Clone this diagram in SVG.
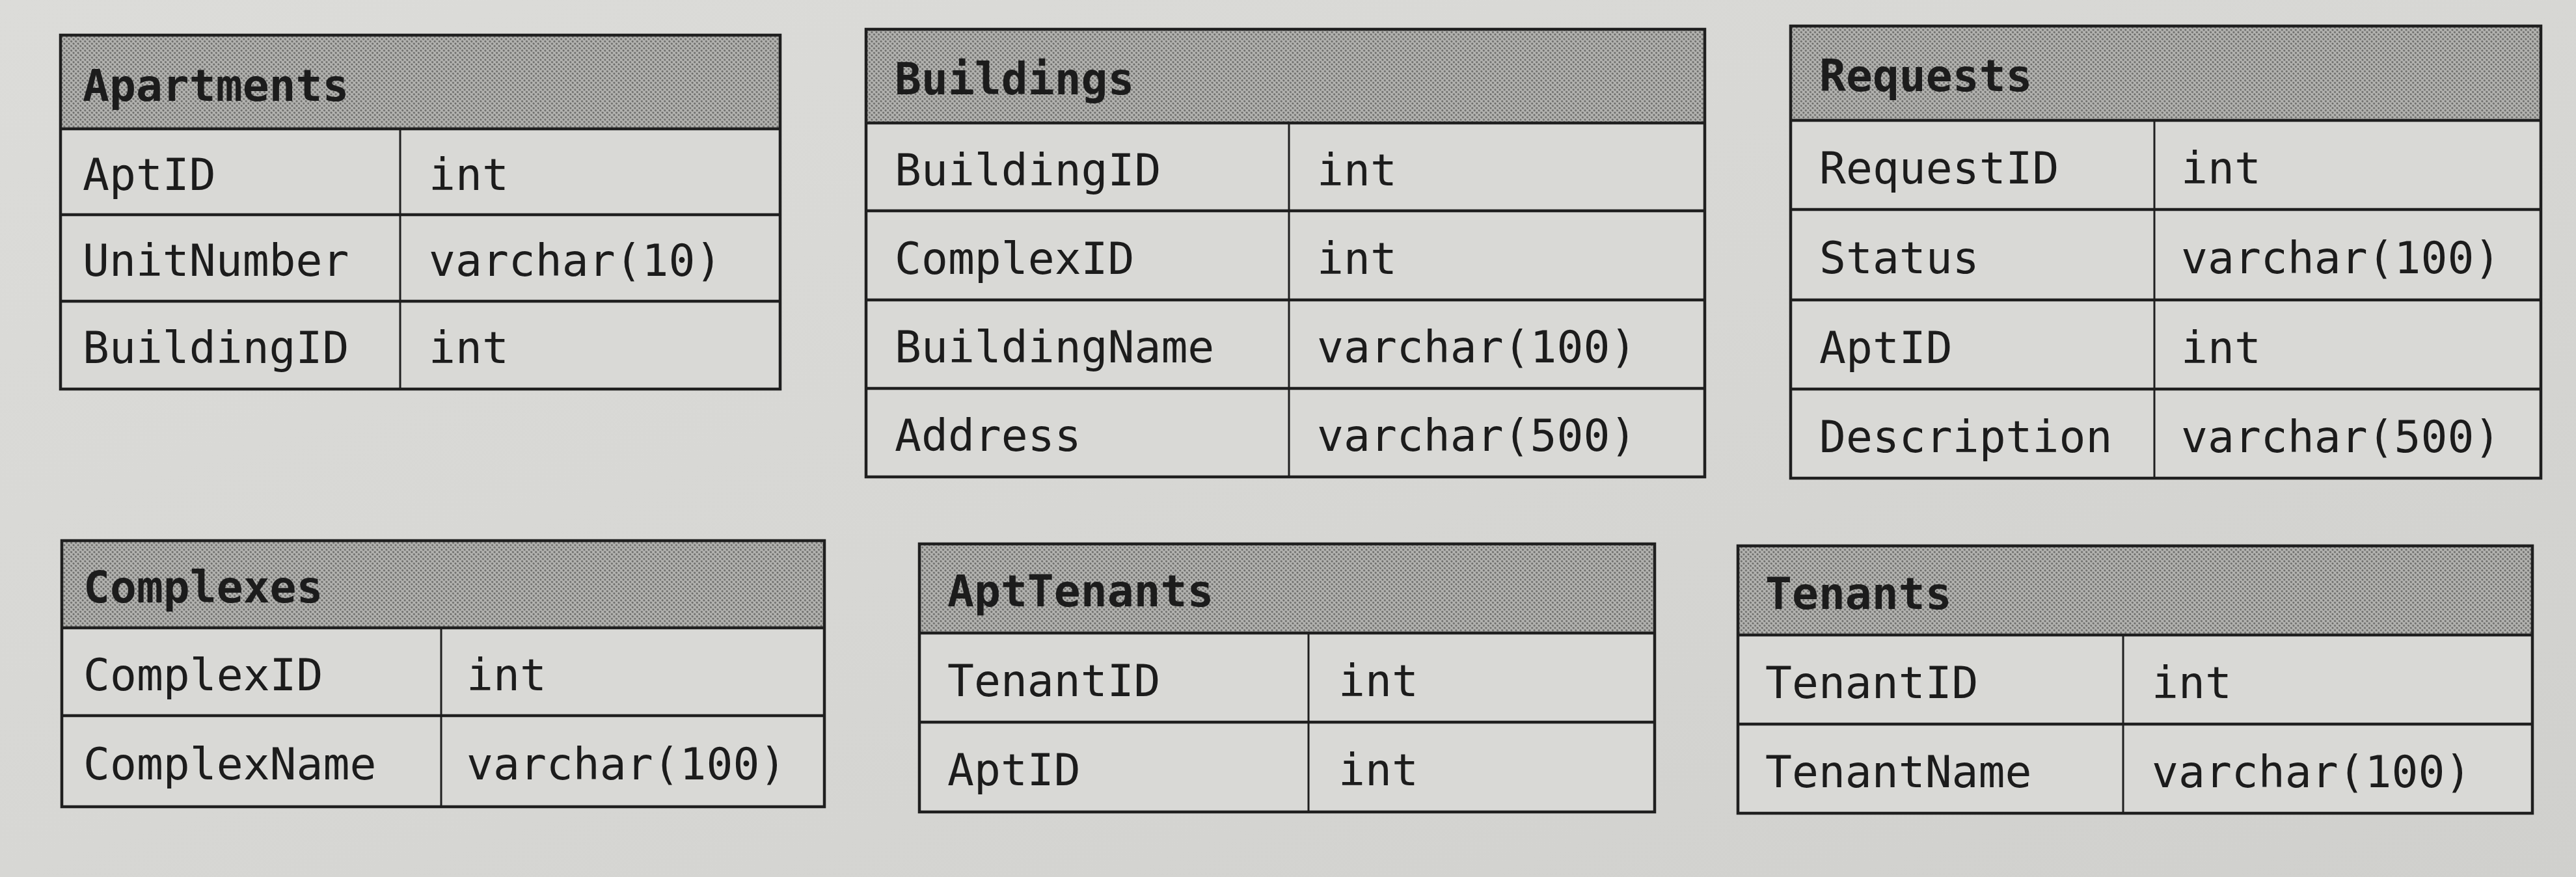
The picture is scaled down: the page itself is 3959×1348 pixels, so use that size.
<svg xmlns="http://www.w3.org/2000/svg" width="3959" height="1348" viewBox="0 0 3959 1348">
  <defs>
    <linearGradient id="paper" x1="0" y1="0" x2="1" y2="1">
      <stop offset="0" stop-color="#dcdcd9"/>
      <stop offset="0.5" stop-color="#d7d7d4"/>
      <stop offset="1" stop-color="#d0d0cd"/>
    </linearGradient>
    <!-- halftone screen used for the table title bars -->
    <pattern id="halftone" width="5" height="5" patternUnits="userSpaceOnUse" patternTransform="rotate(45)">
      <rect width="5" height="5" fill="#b3b3b0"/>
      <circle cx="2.5" cy="2.5" r="1.6" fill="#6a6a68"/>
    </pattern>
  </defs>
  <style>
    .cell { fill: #d9d9d6; }
    .head { fill: url(#halftone); }
    .frame { fill: none; stroke: #1f1f1f; stroke-width: 4.5; }
    .rule { stroke: #1f1f1f; stroke-width: 4.5; }
    .div { stroke: #1f1f1f; stroke-width: 3; }
    text { font-family: "DejaVu Sans Mono", "Liberation Mono", monospace; font-size: 68px; fill: #1c1c1c; }
    .title { font-weight: bold; }
  </style>

  <rect width="3959" height="1348" fill="url(#paper)"/>

  <!-- Apartments -->
  <g id="apartments">
    <rect class="cell" x="93" y="54" width="1106" height="544"/>
    <rect class="head" x="93" y="54" width="1106" height="144"/>
    <line class="rule" x1="93" y1="198" x2="1199" y2="198"/>
    <line class="rule" x1="93" y1="330" x2="1199" y2="330"/>
    <line class="rule" x1="93" y1="463" x2="1199" y2="463"/>
    <line class="div" x1="615" y1="198" x2="615" y2="598"/>
    <rect class="frame" x="93" y="54" width="1106" height="544"/>
    <text class="title" x="127" y="155">Apartments</text>
    <text x="127" y="292">AptID</text>
    <text x="659" y="292">int</text>
    <text x="127" y="424">UnitNumber</text>
    <text x="659" y="424">varchar(10)</text>
    <text x="127" y="558">BuildingID</text>
    <text x="659" y="558">int</text>
  </g>

  <!-- Buildings -->
  <g id="buildings">
    <rect class="cell" x="1331" y="45" width="1289" height="688"/>
    <rect class="head" x="1331" y="45" width="1289" height="144"/>
    <line class="rule" x1="1331" y1="189" x2="2620" y2="189"/>
    <line class="rule" x1="1331" y1="324" x2="2620" y2="324"/>
    <line class="rule" x1="1331" y1="461" x2="2620" y2="461"/>
    <line class="rule" x1="1331" y1="597" x2="2620" y2="597"/>
    <line class="div" x1="1981" y1="189" x2="1981" y2="733"/>
    <rect class="frame" x="1331" y="45" width="1289" height="688"/>
    <text class="title" x="1375" y="145">Buildings</text>
    <text x="1375" y="285">BuildingID</text>
    <text x="2024" y="285">int</text>
    <text x="1375" y="421">ComplexID</text>
    <text x="2024" y="421">int</text>
    <text x="1375" y="557">BuildingName</text>
    <text x="2024" y="557">varchar(100)</text>
    <text x="1375" y="693">Address</text>
    <text x="2024" y="693">varchar(500)</text>
  </g>

  <!-- Requests -->
  <g id="requests">
    <rect class="cell" x="2752" y="40" width="1153" height="695"/>
    <rect class="head" x="2752" y="40" width="1153" height="145"/>
    <line class="rule" x1="2752" y1="185" x2="3905" y2="185"/>
    <line class="rule" x1="2752" y1="322" x2="3905" y2="322"/>
    <line class="rule" x1="2752" y1="461" x2="3905" y2="461"/>
    <line class="rule" x1="2752" y1="598" x2="3905" y2="598"/>
    <line class="div" x1="3311" y1="185" x2="3311" y2="735"/>
    <rect class="frame" x="2752" y="40" width="1153" height="695"/>
    <text class="title" x="2796" y="140">Requests</text>
    <text x="2796" y="282">RequestID</text>
    <text x="3352" y="282">int</text>
    <text x="2796" y="420">Status</text>
    <text x="3352" y="420">varchar(100)</text>
    <text x="2796" y="558">AptID</text>
    <text x="3352" y="558">int</text>
    <text x="2796" y="695">Description</text>
    <text x="3352" y="695">varchar(500)</text>
  </g>

  <!-- Complexes -->
  <g id="complexes">
    <rect class="cell" x="95" y="831" width="1172" height="409"/>
    <rect class="head" x="95" y="831" width="1172" height="134"/>
    <line class="rule" x1="95" y1="965" x2="1267" y2="965"/>
    <line class="rule" x1="95" y1="1100" x2="1267" y2="1100"/>
    <line class="div" x1="678" y1="965" x2="678" y2="1240"/>
    <rect class="frame" x="95" y="831" width="1172" height="409"/>
    <text class="title" x="128" y="926">Complexes</text>
    <text x="128" y="1061">ComplexID</text>
    <text x="717" y="1061">int</text>
    <text x="128" y="1198">ComplexName</text>
    <text x="717" y="1198">varchar(100)</text>
  </g>

  <!-- AptTenants -->
  <g id="apttenants">
    <rect class="cell" x="1413" y="836" width="1130" height="412"/>
    <rect class="head" x="1413" y="836" width="1130" height="137"/>
    <line class="rule" x1="1413" y1="973" x2="2543" y2="973"/>
    <line class="rule" x1="1413" y1="1110" x2="2543" y2="1110"/>
    <line class="div" x1="2011" y1="973" x2="2011" y2="1248"/>
    <rect class="frame" x="1413" y="836" width="1130" height="412"/>
    <text class="title" x="1456" y="932">AptTenants</text>
    <text x="1456" y="1070">TenantID</text>
    <text x="2057" y="1070">int</text>
    <text x="1456" y="1207">AptID</text>
    <text x="2057" y="1207">int</text>
  </g>

  <!-- Tenants -->
  <g id="tenants">
    <rect class="cell" x="2671" y="839" width="1221" height="411"/>
    <rect class="head" x="2671" y="839" width="1221" height="137"/>
    <line class="rule" x1="2671" y1="976" x2="3892" y2="976"/>
    <line class="rule" x1="2671" y1="1113" x2="3892" y2="1113"/>
    <line class="div" x1="3263" y1="976" x2="3263" y2="1250"/>
    <rect class="frame" x="2671" y="839" width="1221" height="411"/>
    <text class="title" x="2713" y="936">Tenants</text>
    <text x="2713" y="1073">TenantID</text>
    <text x="3307" y="1073">int</text>
    <text x="2713" y="1210">TenantName</text>
    <text x="3307" y="1210">varchar(100)</text>
  </g>

  <!-- no relationships are drawn between the tables -->
  <g id="connectors"/>
</svg>
